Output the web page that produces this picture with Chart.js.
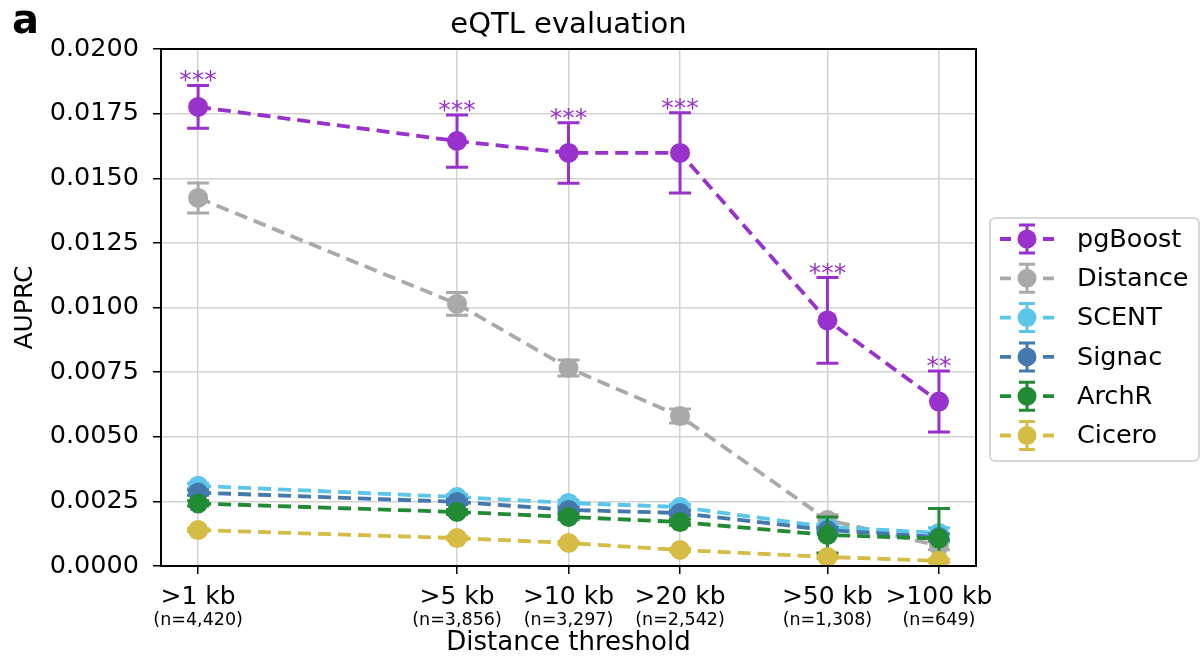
<!DOCTYPE html>
<html>
<head>
<meta charset="utf-8">
<script src="https://cdn.jsdelivr.net/npm/chart.js@4.4.1/dist/chart.umd.min.js"></script>
<style>
  html, body { margin: 0; padding: 0; background: #fff; }
  #wrap { width: 1201px; height: 659px; position: relative; }
</style>
</head>
<body>
<div id="wrap"><canvas id="c" width="1201" height="659"></canvas></div>
<script>
// distance thresholds (kb) and labels
const thresholds = [1, 5, 10, 20, 50, 100];
const tickLabels = ['>1 kb', '>5 kb', '>10 kb', '>20 kb', '>50 kb', '>100 kb'];
const nLabels = ['(n=4,420)', '(n=3,856)', '(n=3,297)', '(n=2,542)', '(n=1,308)', '(n=649)'];
const yTicks = [0, 0.0025, 0.005, 0.0075, 0.01, 0.0125, 0.015, 0.0175, 0.02];

const methods = ['pgBoost', 'Distance', 'SCENT', 'Signac', 'ArchR', 'Cicero'];
const colors = ['#9932cc', '#a9a9a9', '#5bc6ea', '#4479b0', '#218a35', '#d4bc45'];

// AUPRC values
const pgBoost  = [0.01776, 0.01644, 0.01598, 0.01598, 0.00950, 0.00636];
const distance = [0.01424, 0.01014, 0.00766, 0.00580, 0.00178, 0.00078];
const scent    = [0.00310, 0.00267, 0.00244, 0.00228, 0.00151, 0.00128];
const signac   = [0.00284, 0.00248, 0.00217, 0.00205, 0.00139, 0.00112];
const archr    = [0.00242, 0.00209, 0.00190, 0.00170, 0.00120, 0.00106];
const cicero   = [0.00139, 0.00108, 0.00089, 0.00062, 0.00035, 0.00020];

// half-width of error bars
const pgBoostErr  = [0.00083, 0.00101, 0.00117, 0.00155, 0.00166, 0.00118];
const distanceErr = [0.00058, 0.00044, 0.00031, 0.00027, 0.00020, 0.00015];
const scentErr    = [0.00010, 0.00010, 0.00010, 0.00010, 0.00010, 0.00020];
const signacErr   = [0.00010, 0.00010, 0.00010, 0.00010, 0.00010, 0.00012];
const archrErr    = [0.00010, 0.00010, 0.00010, 0.00012, 0.00070, 0.00116];
const ciceroErr   = [0.00006, 0.00006, 0.00006, 0.00006, 0.00006, 0.00006];

const stars = ['***', '***', '***', '***', '***', '**'];

const values = [pgBoost, distance, scent, signac, archr, cicero];
const errors = [pgBoostErr, distanceErr, scentErr, signacErr, archrErr, ciceroErr];

const FONT = 'DejaVu Sans';

const datasets = methods.map((m, i) => ({
  label: m,
  data: thresholds.map((t, j) => ({x: t, y: values[i][j]})),
  borderColor: colors[i],
  backgroundColor: colors[i],
  pointBackgroundColor: colors[i],
  pointBorderWidth: 0,
  pointRadius: 10,
  borderWidth: 3.8,
  borderDash: [13, 7],
  order: -i,  // later series on top, like matplotlib
  errs: errors[i]
}));

const errPlugin = {
  id: 'errbars',
  beforeDatasetDraw(chart, args) {
    const ds = chart.data.datasets[args.index];
    const xs = chart.scales.x, ys = chart.scales.y, ctx = chart.ctx;
    const a = chart.chartArea;
    ctx.save();
    ctx.beginPath();
    ctx.rect(a.left, a.top, a.right - a.left, a.bottom - a.top);
    ctx.clip();
    ctx.strokeStyle = ds.borderColor;
    ctx.lineWidth = 3;
    ds.data.forEach((p, j) => {
      const x = xs.getPixelForValue(p.x);
      const y1 = ys.getPixelForValue(p.y + ds.errs[j]);
      const y2 = ys.getPixelForValue(p.y - ds.errs[j]);
      ctx.beginPath();
      ctx.moveTo(x, y1); ctx.lineTo(x, y2);
      ctx.moveTo(x - 11, y1); ctx.lineTo(x + 11, y1);
      ctx.moveTo(x - 11, y2); ctx.lineTo(x + 11, y2);
      ctx.stroke();
    });
    ctx.restore();
  },
  afterDraw(chart) {
    const xs = chart.scales.x, ys = chart.scales.y, ctx = chart.ctx;
    const a = chart.chartArea;
    ctx.save();
    // frame
    ctx.strokeStyle = '#000';
    ctx.lineWidth = 2;
    ctx.strokeRect(a.left, a.top, a.right - a.left, a.bottom - a.top);

    // significance stars
    ctx.fillStyle = colors[0];
    ctx.font = '25px ' + FONT;
    ctx.textAlign = 'center';
    ctx.textBaseline = 'alphabetic';
    thresholds.forEach((t, j) => {
      const x = xs.getPixelForValue(t);
      const y = ys.getPixelForValue(pgBoost[j] + pgBoostErr[j]);
      ctx.fillText(stars[j], x, y + 3);
    });

    // n= sublabels
    ctx.fillStyle = '#000';
    ctx.font = '17.5px ' + FONT;
    ctx.textBaseline = 'middle';
    thresholds.forEach((t, j) => {
      ctx.fillText(nLabels[j], xs.getPixelForValue(t), 620);
    });

    // axis titles and title
    ctx.font = '26px ' + FONT;
    ctx.fillText('Distance threshold', (a.left + a.right) / 2, 643);
    ctx.font = '29px ' + FONT;
    ctx.textBaseline = 'alphabetic';
    ctx.fillText('eQTL evaluation', (a.left + a.right) / 2, 33);
    ctx.save();
    ctx.translate(25, (a.top + a.bottom) / 2);
    ctx.rotate(-Math.PI / 2);
    ctx.font = '25px ' + FONT;
    ctx.textBaseline = 'middle';
    ctx.fillText('AUPRC', 0, 0);
    ctx.restore();

    // panel letter
    ctx.font = 'bold 40px ' + FONT;
    ctx.textAlign = 'left';
    ctx.textBaseline = 'alphabetic';
    ctx.fillText('a', 12, 33);

    // legend
    const lx = 990, ly = 218, lw = 209, lh = 243;
    ctx.beginPath();
    ctx.roundRect(lx, ly, lw, lh, 5);
    ctx.fillStyle = 'rgba(255,255,255,0.8)';
    ctx.fill();
    ctx.strokeStyle = '#cccccc';
    ctx.lineWidth = 1.5;
    ctx.stroke();
    chart.data.datasets.forEach((ds, i) => {
      const cy = 239 + i * 39.3;
      const cx = 1027;
      ctx.strokeStyle = ds.borderColor;
      ctx.lineWidth = 3.8;
      ctx.beginPath();
      ctx.moveTo(1000, cy); ctx.lineTo(1011, cy);
      ctx.moveTo(1043, cy); ctx.lineTo(1054, cy);
      ctx.stroke();
      ctx.lineWidth = 3;
      ctx.beginPath();
      ctx.moveTo(cx, cy - 14); ctx.lineTo(cx, cy + 14);
      ctx.moveTo(cx - 8, cy - 14); ctx.lineTo(cx + 8, cy - 14);
      ctx.moveTo(cx - 8, cy + 14); ctx.lineTo(cx + 8, cy + 14);
      ctx.stroke();
      ctx.fillStyle = ds.borderColor;
      ctx.beginPath();
      ctx.arc(cx, cy, 9.5, 0, Math.PI * 2);
      ctx.fill();
      ctx.fillStyle = '#000';
      ctx.font = '25.5px ' + FONT;
      ctx.textBaseline = 'middle';
      ctx.fillText(ds.label, 1077, cy + 1);
    });
    ctx.restore();
  }
};

new Chart(document.getElementById('c').getContext('2d'), {
  type: 'line',
  data: { datasets: datasets },
  options: {
    responsive: false,
    animation: false,
    layout: { padding: { left: 0, top: 49, right: 225, bottom: 0 } },
    plugins: { legend: { display: false }, title: { display: false }, tooltip: { enabled: false } },
    scales: {
      x: {
        type: 'logarithmic',
        min: 0.794,
        max: 125.9,
        afterBuildTicks: s => { s.ticks = thresholds.map(v => ({value: v})); },
        afterFit: s => { s.height = 93; },
        grid: { color: '#d3d3d3', lineWidth: 1.5, tickColor: '#000', tickLength: 8, tickWidth: 1.5 },
        border: { display: false },
        ticks: {
          autoSkip: false, maxRotation: 0, padding: 8,
          color: '#000',
          font: { family: FONT, size: 25 },
          callback: (v) => tickLabels[thresholds.indexOf(v)]
        }
      },
      y: {
        min: 0,
        max: 0.02,
        afterBuildTicks: s => { s.ticks = yTicks.map(v => ({value: v})); },
        afterFit: s => { s.width = 161; },
        grid: { color: '#d3d3d3', lineWidth: 1.5, tickColor: '#000', tickLength: 8, tickWidth: 1.5 },
        border: { display: false },
        ticks: {
          padding: 14,
          color: '#000',
          font: { family: FONT, size: 25.5 },
          callback: v => v.toFixed(4)
        }
      }
    }
  },
  plugins: [errPlugin]
});
</script>
</body>
</html>
